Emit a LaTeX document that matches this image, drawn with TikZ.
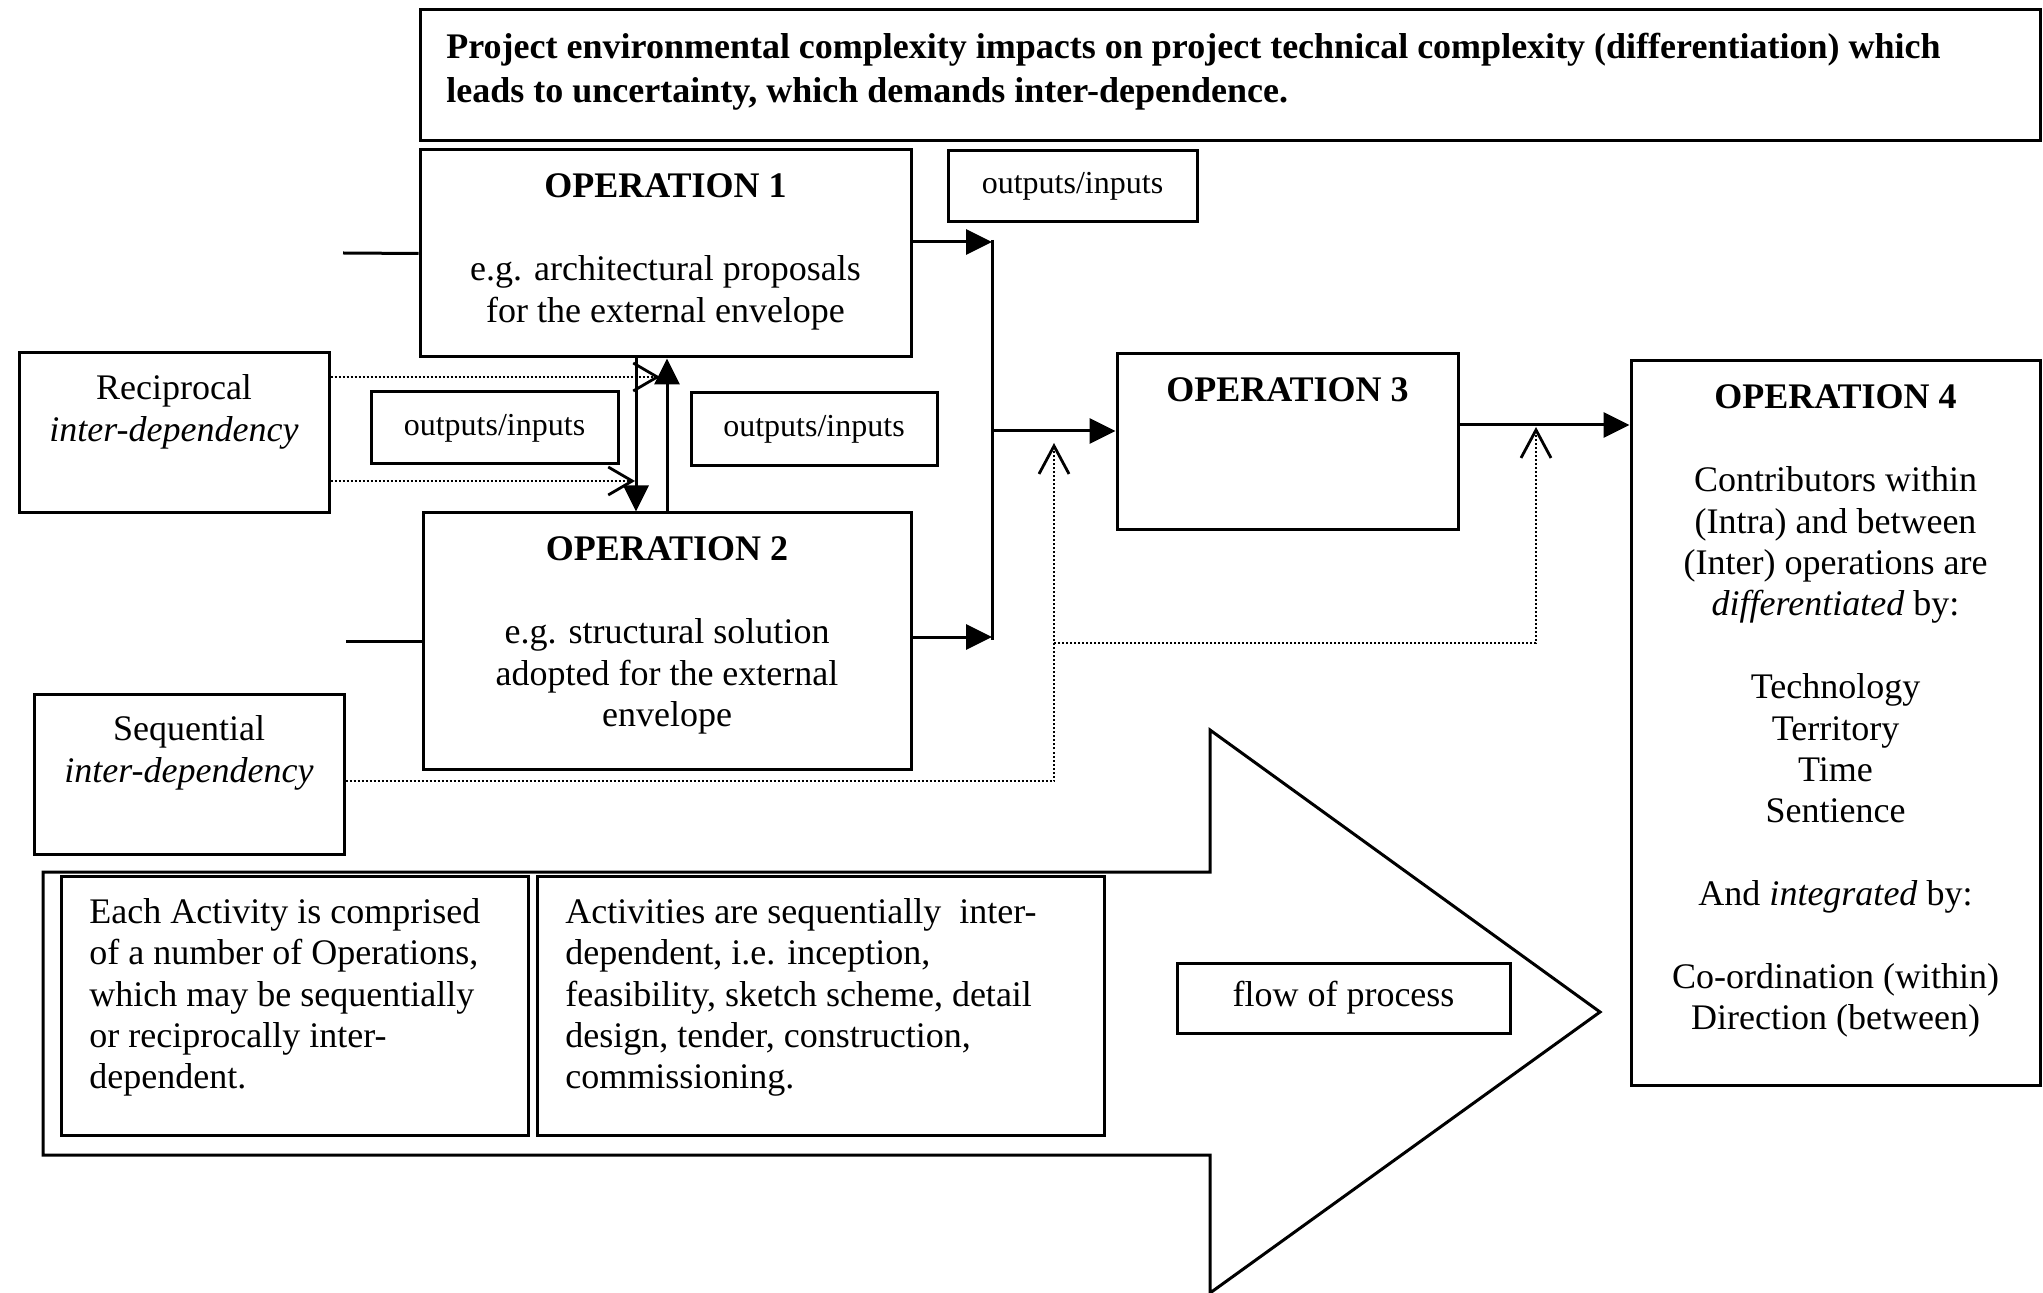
\documentclass[tikz,border=0pt]{standalone}
\usepackage{fontspec}
\setmainfont{Liberation Serif}
\usetikzlibrary{arrows.meta,fit}
\begin{document}
\begin{tikzpicture}[x=0.5pt,y=-0.5pt,
  box/.style={draw, line width=1.5pt, inner sep=0pt},
  txt/.style={font=\fontsize{18}{20.7}\selectfont, inner sep=0pt, align=center},
  smalltxt/.style={font=\fontsize{16}{18.4}\selectfont, inner sep=0pt},
  boldtxt/.style={font=\fontsize{18}{22}\selectfont\bfseries, inner sep=0pt, align=left},
  lefttxt/.style={font=\fontsize{18}{20.7}\selectfont, inner sep=0pt, align=left, anchor=north west},
  firstline/.style={anchor=north, yshift=-11.5pt},
  opline/.style={anchor=north, yshift=-12.6pt},
  link/.style={line width=1.5pt},
  solidtip/.style={link, -{Triangle[length=13pt,width=12.5pt]}},
  dotline/.style={line width=1pt, dash pattern=on 1pt off 1pt},
  sidebarb/.style={dotline, -{Straight Barb[length=12pt,width=14pt,line width=1.4pt]}},
  upbarb/.style={dotline, -{Straight Barb[length=14pt,width=15pt,line width=1.4pt]}},
  bigarrow/.style={draw, line width=1.5pt}
]
\useasboundingbox (0,0) rectangle (2043,1293);

% broad arrow carrying the flow of process
\draw[bigarrow] (43,872) -- (1210,872) -- (1210,730) -- (1600,1012)
  -- (1210,1293) -- (1210,1155) -- (43,1155) -- cycle;

% boxes
\node[box, fit={(420,10) (2040,141)}] (head) {};
\node[box, fit={(420,150) (911,357)}] (op1) {};
\node[box, fit={(948,151) (1197,222)}] (io1) {};
\node[box, fit={(19,353) (329,513)}] (recip) {};
\node[box, fit={(371,392) (618,464)}] (io2) {};
\node[box, fit={(691,393) (937,466)}] (io3) {};
\node[box, fit={(423,513) (911,769)}] (op2) {};
\node[box, fit={(34,694) (344,854)}] (seq) {};
\node[box, fit={(1117,354) (1458,530)}] (op3) {};
\node[box, fit={(1631,361) (2040,1085)}] (op4) {};
\node[box, fit={(61,876) (528,1135)}] (acta) {};
\node[box, fit={(537,876) (1104,1135)}] (actb) {};
\node[box, fit={(1177,963) (1510,1033)}] (flow) {};

% texts
\node[boldtxt, anchor=north west] (headt) at (446,33)
  {Project environmental complexity impacts on project technical complexity (differentiation) which\\
   leads to uncertainty, which demands inter-dependence.};
\node[txt, opline] (op1t) at (op1.north)
  {\textbf{OPERATION 1}\\[20.7pt] e.g. architectural proposals\\ for the external envelope};
\node[smalltxt] (io1t) at (io1.center) {outputs/inputs};
\node[smalltxt] (io2t) at (io2.center) {outputs/inputs};
\node[smalltxt] (io3t) at (io3.center) {outputs/inputs};
\node[txt, firstline] (recipt) at (recip.north) {Reciprocal\\ \textit{inter-dependency}};
\node[txt, opline] (op2t) at (op2.north)
  {\textbf{OPERATION 2}\\[20.7pt] e.g. structural solution\\ adopted for the external\\ envelope};
\node[txt, firstline] (seqt) at (seq.north) {Sequential\\ \textit{inter-dependency}};
\node[txt, opline] (op3t) at (op3.north) {\textbf{OPERATION 3}};
\node[txt, opline] (op4t) at (op4.north)
  {\textbf{OPERATION 4}\\[20.7pt]
   Contributors within\\ (Intra) and between\\ (Inter) operations are\\ \textit{differentiated} by:\\[20.7pt]
   Technology\\ Territory\\ Time\\ Sentience\\[20.7pt]
   And \textit{integrated} by:\\[20.7pt]
   Co-ordination (within)\\ Direction (between)};
\node[lefttxt] (actat) at (89,898)
  {Each Activity is comprised\\ of a number of Operations,\\ which may be sequentially\\ or reciprocally inter-\\ dependent.};
\node[lefttxt] (actbt) at (565,898)
  {Activities are sequentially\ \ inter-\\ dependent, i.e. inception,\\ feasibility, sketch scheme, detail\\ design, tender, construction,\\ commissioning.};
\node[txt] (flowt) at (flow.center) {flow of process};

% solid connectors
\coordinate (in1) at (343,253);
\coordinate (in2) at (346,641);
\draw[link] (in1) -- (op1.west);
\draw[link] (in2) -- (op2.west);

\coordinate (c1) at (992,242);
\coordinate (c2) at (992,637);
\coordinate (c3) at (992,431);
\draw[solidtip] (op1.east |- c1) -- (c1);
\draw[solidtip] (op2.east |- c2) -- (c2);
\draw[link] ([yshift=1pt]c1) -- ([yshift=-1.5pt]c2);
\draw[solidtip] (c3) -- (op3.west |- c3);

\coordinate (dn) at (636,0);
\coordinate (up) at (667,0);
\draw[solidtip] (op1.south -| dn) -- (op2.north -| dn);
\draw[solidtip] (op2.north -| up) -- (op1.south -| up);

\coordinate (l34) at (1500,425);
\draw[solidtip] (op3.east |- l34) -- (op4.west |- l34);

% dotted inter-dependency links
\coordinate (r1) at (660,377);
\coordinate (r2) at (635,481);
\draw[sidebarb] (recip.east |- r1) -- (r1);
\draw[sidebarb] (recip.east |- r2) -- (r2);

\coordinate (sq) at (1054,781);
\coordinate (s1) at (1054,443);
\coordinate (br) at (1054,643);
\coordinate (s2) at (1536,427);
\draw[upbarb] (seq.east |- sq) -- (sq) -- (s1);
\draw[upbarb] (br) -| (s2);
\end{tikzpicture}
\end{document}
